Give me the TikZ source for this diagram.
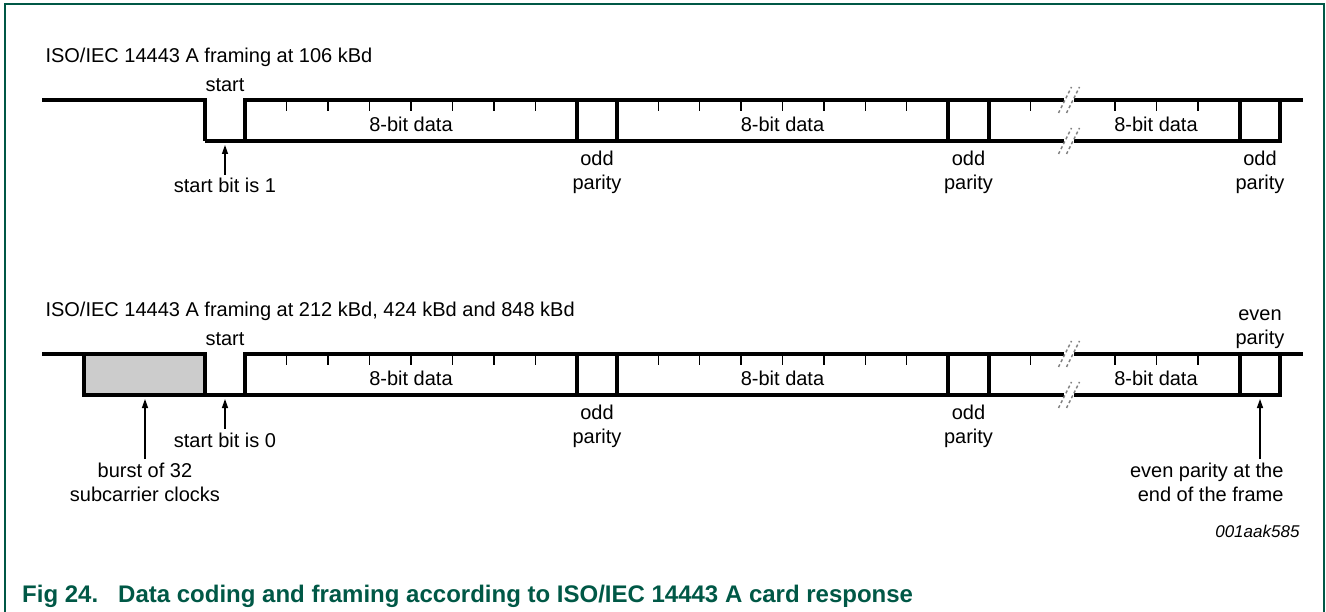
\documentclass[tikz,border=0pt]{standalone}
\usepackage{fontspec}
\setmainfont{Liberation Sans}
\usetikzlibrary{arrows.meta}
\definecolor{nxpgreen}{RGB}{0,88,70}
\definecolor{burstgray}{RGB}{204,204,204}

\begin{document}
\begin{tikzpicture}[x=1pt, y=-1pt,
		sig/.style={line width=4pt},
		tick/.style={line width=1.3pt},
		brk/.style={gray, line width=1.4pt, dash pattern=on 3pt off 2.5pt},
		txt/.style={font=\fontsize{20}{24}\selectfont, align=center},
		arr/.style={-{Triangle[length=9pt, width=6pt]}, line width=1.3pt}]
	\useasboundingbox (0,0) rectangle (1326,612);
	\draw[nxpgreen, line width=2pt] (4.5,612) -- (4.5,4) -- (1324,4) -- (1324,612);

	\foreach \s in {0,254} {
		\begin{scope}[shift={(0,\s)}]
			\draw[sig] (205,141) -- (1064,141) (245,141) -- (245,100) -- (1064,100)
				(1074,100) -- (1303,100) (1074,141) -| (1280,100);
			\foreach \x in {577,617,948,989,1240}
				\draw[sig] (\x,100) -- (\x,141);
			\foreach \x in {286.5,328,369.5,411,452.5,494,535.5,658.4,699.8,741.1,782.5,823.9,865.3,906.6,1030.5,1115,1156.5,1198}
				\draw[tick] (\x,100) -- (\x,111);
			\foreach \x in {1065,1073} {
				\draw[brk] (\x-6.5,113) -- (\x+6.5,87);
				\draw[brk] (\x-6.5,154) -- (\x+6.5,128);
			}
			\node[txt, anchor=base] (start\s) at (225,92) {start};
			\node[txt, anchor=base] (dat1\s) at (411,132) {8-bit data};
			\node[txt, anchor=base] (dat2\s) at (782.5,132) {8-bit data};
			\node[txt, anchor=base] (dat3\s) at (1156,132) {8-bit data};
			\node[txt, anchor=north] (odd1\s) at (597,147) {odd\\parity};
			\node[txt, anchor=north] (odd2\s) at (968.5,147) {odd\\parity};
		\end{scope}
	}

	\node[txt, anchor=base west] (title1) at (42,63) {ISO/IEC 14443 A framing at 106 kBd};
	\draw[sig] (42,100) -| (205,141);
	\node[txt, anchor=north] (odd3) at (1260,147) {odd\\parity};
	\coordinate (sb1) at (225,145);
	\node[txt, anchor=base] (sbtxt1) at (225,193) {start bit is 1};
	\draw[arr] (sbtxt1) -- (sb1);

	\node[txt, anchor=base west] (title2) at (42,317) {ISO/IEC 14443 A framing at 212 kBd, 424 kBd and 848 kBd};
	\draw[sig] (42,354) -- (84,354);
	\draw[sig, fill=burstgray] (84,354) rectangle (205,395);
	\node[txt, anchor=south] (even) at (1260,352) {even\\parity};
	\coordinate (burst) at (145,399);
	\coordinate (sb2) at (225,399);
	\coordinate (evenbit) at (1260,399);
	\node[txt, anchor=base] (sbtxt2) at (225,447) {start bit is 0};
	\node[txt, anchor=north] (bursttxt) at (145,459) {burst of 32\\subcarrier clocks};
	\node[txt, anchor=north east, align=right] (eventxt) at (1287,459) {even parity at the\\end of the frame};
	\draw[arr] (sbtxt2) -- (sb2);
	\draw[arr] (bursttxt) -- (burst);
	\draw[arr] (eventxt.north -| evenbit) -- (evenbit);

	\node[anchor=base east, font=\fontsize{17}{20}\selectfont\itshape] (figid) at (1303,537) {001aak585};
	\node[anchor=base west, font=\fontsize{24}{28}\selectfont\bfseries, text=nxpgreen, inner sep=0pt] (caption) at (22,602) {Fig 24.\hspace{20pt}Data coding and framing according to ISO/IEC 14443 A card response};
\end{tikzpicture}
\end{document}
